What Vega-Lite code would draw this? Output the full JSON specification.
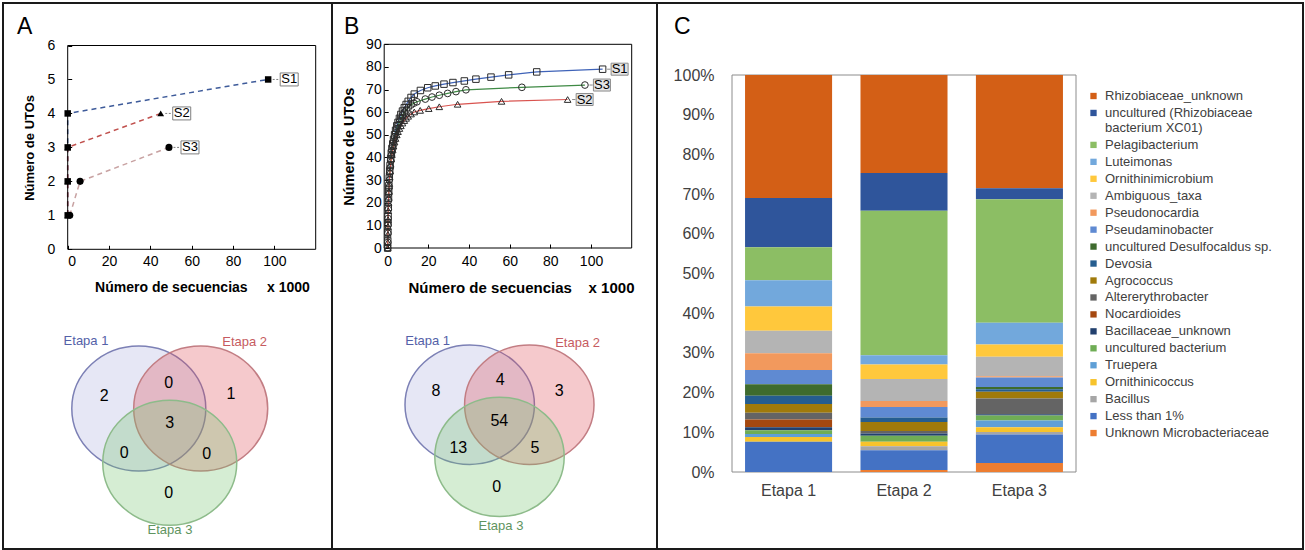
{
  "$schema": "https://vega.github.io/schema/vega-lite/v6.json",
  "padding": {"left": 2, "top": 2, "right": 0, "bottom": 0},
  "bounds": "flush",
  "spacing": 0,
  "background": "white",
  "resolve": {"legend": {"color": "independent", "fill": "independent", "stroke": "independent", "shape": "independent", "size": "independent"}, "scale": {"color": "independent", "fill": "independent", "stroke": "independent", "shape": "independent", "size": "independent"}},
  "config": {
    "view": {"stroke": "#1a1a1a", "strokeWidth": 2},
    "font": "Liberation Sans",
    "axis": {"labelFont": "Liberation Sans", "titleFont": "Liberation Sans"},
    "legend": {"labelFont": "Liberation Sans"},
    "text": {"font": "Liberation Sans"},
    "title": {"font": "Liberation Sans"}
  },
  "datasets": {
    "lineA": [
      {"s": "S1", "x": 0, "y": 1}, {"s": "S1", "x": 0, "y": 2}, {"s": "S1", "x": 0, "y": 3}, {"s": "S1", "x": 0, "y": 4}, {"s": "S1", "x": 97, "y": 5},
      {"s": "S2", "x": 0, "y": 1}, {"s": "S2", "x": 0, "y": 2}, {"s": "S2", "x": 0, "y": 3}, {"s": "S2", "x": 45, "y": 4},
      {"s": "S3", "x": 1, "y": 1}, {"s": "S3", "x": 6, "y": 2}, {"s": "S3", "x": 49, "y": 3}
    ],
    "endA": [{"s": "S1", "x": 97, "y": 5}, {"s": "S2", "x": 45, "y": 4}, {"s": "S3", "x": 49, "y": 3}],
    "lineB": [
      {"s": "S1", "x": 0, "y": 0}, {"s": "S1", "x": 0.05, "y": 3}, {"s": "S1", "x": 0.1, "y": 7}, {"s": "S1", "x": 0.15, "y": 11}, {"s": "S1", "x": 0.2, "y": 14}, {"s": "S1", "x": 0.3, "y": 18}, {"s": "S1", "x": 0.4, "y": 22}, {"s": "S1", "x": 0.5, "y": 25}, {"s": "S1", "x": 0.6, "y": 27.5}, {"s": "S1", "x": 0.8, "y": 31}, {"s": "S1", "x": 1, "y": 34}, {"s": "S1", "x": 1.2, "y": 36.5}, {"s": "S1", "x": 1.5, "y": 39.5}, {"s": "S1", "x": 1.8, "y": 42}, {"s": "S1", "x": 2.1, "y": 44}, {"s": "S1", "x": 2.5, "y": 46}, {"s": "S1", "x": 2.9, "y": 48}, {"s": "S1", "x": 3.4, "y": 50}, {"s": "S1", "x": 3.9, "y": 52}, {"s": "S1", "x": 4.5, "y": 54}, {"s": "S1", "x": 5.1, "y": 55.5}, {"s": "S1", "x": 5.8, "y": 57.3}, {"s": "S1", "x": 6.5, "y": 59}, {"s": "S1", "x": 7.3, "y": 60.5}, {"s": "S1", "x": 8.2, "y": 62}, {"s": "S1", "x": 9.1, "y": 63.4}, {"s": "S1", "x": 10.1, "y": 64.8}, {"s": "S1", "x": 11.5, "y": 66.5}, {"s": "S1", "x": 13.1, "y": 68}, {"s": "S1", "x": 16.1, "y": 69.6}, {"s": "S1", "x": 19.7, "y": 70.8}, {"s": "S1", "x": 23.4, "y": 71.6}, {"s": "S1", "x": 27.7, "y": 72.4}, {"s": "S1", "x": 32.1, "y": 73.1}, {"s": "S1", "x": 37.7, "y": 73.8}, {"s": "S1", "x": 43.4, "y": 74.6}, {"s": "S1", "x": 50.8, "y": 75.5}, {"s": "S1", "x": 59.5, "y": 76.5}, {"s": "S1", "x": 73.3, "y": 77.8}, {"s": "S1", "x": 105.7, "y": 79},
      {"s": "S3", "x": 0, "y": 0}, {"s": "S3", "x": 0.05, "y": 2.5}, {"s": "S3", "x": 0.1, "y": 6.5}, {"s": "S3", "x": 0.15, "y": 10}, {"s": "S3", "x": 0.2, "y": 13}, {"s": "S3", "x": 0.3, "y": 17}, {"s": "S3", "x": 0.4, "y": 21}, {"s": "S3", "x": 0.5, "y": 24}, {"s": "S3", "x": 0.6, "y": 26.5}, {"s": "S3", "x": 0.8, "y": 30}, {"s": "S3", "x": 1, "y": 33}, {"s": "S3", "x": 1.2, "y": 35.5}, {"s": "S3", "x": 1.5, "y": 38.5}, {"s": "S3", "x": 1.8, "y": 41}, {"s": "S3", "x": 2.1, "y": 43}, {"s": "S3", "x": 2.5, "y": 45}, {"s": "S3", "x": 2.9, "y": 47}, {"s": "S3", "x": 3.4, "y": 49}, {"s": "S3", "x": 3.9, "y": 50.8}, {"s": "S3", "x": 4.5, "y": 52.6}, {"s": "S3", "x": 5.1, "y": 54.2}, {"s": "S3", "x": 5.8, "y": 55.8}, {"s": "S3", "x": 6.5, "y": 57.2}, {"s": "S3", "x": 7.3, "y": 58.6}, {"s": "S3", "x": 8.2, "y": 59.9}, {"s": "S3", "x": 9.1, "y": 61}, {"s": "S3", "x": 10.1, "y": 62}, {"s": "S3", "x": 11.5, "y": 63.2}, {"s": "S3", "x": 12.9, "y": 64}, {"s": "S3", "x": 14.4, "y": 64.6}, {"s": "S3", "x": 18.5, "y": 65.8}, {"s": "S3", "x": 21.8, "y": 66.7}, {"s": "S3", "x": 25.4, "y": 67.5}, {"s": "S3", "x": 29.5, "y": 68.3}, {"s": "S3", "x": 33.6, "y": 69.1}, {"s": "S3", "x": 38.5, "y": 69.9}, {"s": "S3", "x": 66, "y": 71}, {"s": "S3", "x": 97, "y": 72},
      {"s": "S2", "x": 0, "y": 0}, {"s": "S2", "x": 0.05, "y": 2.5}, {"s": "S2", "x": 0.1, "y": 6}, {"s": "S2", "x": 0.15, "y": 9.5}, {"s": "S2", "x": 0.2, "y": 12.5}, {"s": "S2", "x": 0.3, "y": 16.5}, {"s": "S2", "x": 0.4, "y": 20}, {"s": "S2", "x": 0.5, "y": 22.5}, {"s": "S2", "x": 0.6, "y": 25}, {"s": "S2", "x": 0.8, "y": 28.5}, {"s": "S2", "x": 1, "y": 31.5}, {"s": "S2", "x": 1.2, "y": 34}, {"s": "S2", "x": 1.5, "y": 37}, {"s": "S2", "x": 1.8, "y": 39.3}, {"s": "S2", "x": 2.1, "y": 41.3}, {"s": "S2", "x": 2.5, "y": 43.3}, {"s": "S2", "x": 2.9, "y": 45}, {"s": "S2", "x": 3.4, "y": 46.8}, {"s": "S2", "x": 3.9, "y": 48.4}, {"s": "S2", "x": 4.5, "y": 50}, {"s": "S2", "x": 5.1, "y": 51.4}, {"s": "S2", "x": 5.8, "y": 52.8}, {"s": "S2", "x": 6.5, "y": 54}, {"s": "S2", "x": 7.3, "y": 55.2}, {"s": "S2", "x": 8.2, "y": 56.3}, {"s": "S2", "x": 9.1, "y": 57.3}, {"s": "S2", "x": 10.1, "y": 58.2}, {"s": "S2", "x": 11.5, "y": 59.2}, {"s": "S2", "x": 13.1, "y": 60.1}, {"s": "S2", "x": 16, "y": 60.8}, {"s": "S2", "x": 20.2, "y": 61.6}, {"s": "S2", "x": 25.4, "y": 62.4}, {"s": "S2", "x": 34.4, "y": 63.5}, {"s": "S2", "x": 56, "y": 64.8}, {"s": "S2", "x": 88.5, "y": 65.6}
    ],
    "endB": [{"s": "S1", "x": 105.7, "y": 79}, {"s": "S3", "x": 97, "y": 72}, {"s": "S2", "x": 88.5, "y": 65.6}],
    "venn": [{"set": "Etapa 1", "vx": 0, "vy": 0}, {"set": "Etapa 2", "vx": 1, "vy": 0}, {"set": "Etapa 3", "vx": 0.5, "vy": -0.875}],
    "vennANum": [
      {"n": "2", "vx": -0.557, "vy": 0.202}, {"n": "0", "vx": 0.483, "vy": 0.417}, {"n": "1", "vx": 1.49, "vy": 0.229},
      {"n": "3", "vx": 0.499, "vy": -0.229}, {"n": "0", "vx": -0.234, "vy": -0.714}, {"n": "0", "vx": 1.097, "vy": -0.73},
      {"n": "0", "vx": 0.483, "vy": -1.36}
    ],
    "vennALab": [{"set": "Etapa 1", "vx": -0.853, "vy": 1.09}, {"set": "Etapa 2", "vx": 1.71, "vy": 1.08}, {"set": "Etapa 3", "vx": 0.504, "vy": -1.968}],
    "vennBNum": [
      {"n": "8", "vx": -0.565, "vy": 0.23}, {"n": "4", "vx": 0.513, "vy": 0.409}, {"n": "3", "vx": 1.503, "vy": 0.23},
      {"n": "54", "vx": 0.497, "vy": -0.273}, {"n": "13", "vx": -0.191, "vy": -0.721}, {"n": "5", "vx": 1.096, "vy": -0.731},
      {"n": "0", "vx": 0.453, "vy": -1.379}
    ],
    "vennBLab": [{"set": "Etapa 1", "vx": -0.706, "vy": 1.077}, {"set": "Etapa 2", "vx": 1.81, "vy": 1.04}, {"set": "Etapa 3", "vx": 0.525, "vy": -2.035}],
    "bars": [
      {"etapa": "Etapa 1", "k": 1, "taxon": "Rhizobiaceae_unknown", "v": 31.0},
      {"etapa": "Etapa 1", "k": 2, "taxon": "uncultured (Rhizobiaceae bacterium XC01)", "v": 12.4},
      {"etapa": "Etapa 1", "k": 3, "taxon": "Pelagibacterium", "v": 8.3},
      {"etapa": "Etapa 1", "k": 4, "taxon": "Luteimonas", "v": 6.6},
      {"etapa": "Etapa 1", "k": 5, "taxon": "Ornithinimicrobium", "v": 6.1},
      {"etapa": "Etapa 1", "k": 6, "taxon": "Ambiguous_taxa", "v": 5.7},
      {"etapa": "Etapa 1", "k": 7, "taxon": "Pseudonocardia", "v": 4.2},
      {"etapa": "Etapa 1", "k": 8, "taxon": "Pseudaminobacter", "v": 3.6},
      {"etapa": "Etapa 1", "k": 9, "taxon": "uncultured Desulfocaldus sp.", "v": 2.9},
      {"etapa": "Etapa 1", "k": 10, "taxon": "Devosia", "v": 2.1},
      {"etapa": "Etapa 1", "k": 11, "taxon": "Agrococcus", "v": 2.2},
      {"etapa": "Etapa 1", "k": 12, "taxon": "Altererythrobacter", "v": 1.7},
      {"etapa": "Etapa 1", "k": 13, "taxon": "Nocardioides", "v": 1.9},
      {"etapa": "Etapa 1", "k": 14, "taxon": "Bacillaceae_unknown", "v": 0.8},
      {"etapa": "Etapa 1", "k": 15, "taxon": "uncultured bacterium", "v": 0.9},
      {"etapa": "Etapa 1", "k": 16, "taxon": "Truepera", "v": 0.8},
      {"etapa": "Etapa 1", "k": 17, "taxon": "Ornithinicoccus", "v": 1.2},
      {"etapa": "Etapa 1", "k": 18, "taxon": "Bacillus", "v": 0},
      {"etapa": "Etapa 1", "k": 19, "taxon": "Less than 1%", "v": 7.6},
      {"etapa": "Etapa 1", "k": 20, "taxon": "Unknown Microbacteriaceae", "v": 0},
      {"etapa": "Etapa 2", "k": 1, "taxon": "Rhizobiaceae_unknown", "v": 24.7},
      {"etapa": "Etapa 2", "k": 2, "taxon": "uncultured (Rhizobiaceae bacterium XC01)", "v": 9.5},
      {"etapa": "Etapa 2", "k": 3, "taxon": "Pelagibacterium", "v": 36.4},
      {"etapa": "Etapa 2", "k": 4, "taxon": "Luteimonas", "v": 2.3},
      {"etapa": "Etapa 2", "k": 5, "taxon": "Ornithinimicrobium", "v": 3.7},
      {"etapa": "Etapa 2", "k": 6, "taxon": "Ambiguous_taxa", "v": 5.5},
      {"etapa": "Etapa 2", "k": 7, "taxon": "Pseudonocardia", "v": 1.5},
      {"etapa": "Etapa 2", "k": 8, "taxon": "Pseudaminobacter", "v": 2.7},
      {"etapa": "Etapa 2", "k": 9, "taxon": "uncultured Desulfocaldus sp.", "v": 0},
      {"etapa": "Etapa 2", "k": 10, "taxon": "Devosia", "v": 1.1},
      {"etapa": "Etapa 2", "k": 11, "taxon": "Agrococcus", "v": 2.3},
      {"etapa": "Etapa 2", "k": 12, "taxon": "Altererythrobacter", "v": 0.6},
      {"etapa": "Etapa 2", "k": 13, "taxon": "Nocardioides", "v": 0},
      {"etapa": "Etapa 2", "k": 14, "taxon": "Bacillaceae_unknown", "v": 0.6},
      {"etapa": "Etapa 2", "k": 15, "taxon": "uncultured bacterium", "v": 1.5},
      {"etapa": "Etapa 2", "k": 16, "taxon": "Truepera", "v": 0},
      {"etapa": "Etapa 2", "k": 17, "taxon": "Ornithinicoccus", "v": 1.1},
      {"etapa": "Etapa 2", "k": 18, "taxon": "Bacillus", "v": 1.0},
      {"etapa": "Etapa 2", "k": 19, "taxon": "Less than 1%", "v": 5.0},
      {"etapa": "Etapa 2", "k": 20, "taxon": "Unknown Microbacteriaceae", "v": 0.5},
      {"etapa": "Etapa 3", "k": 1, "taxon": "Rhizobiaceae_unknown", "v": 28.6},
      {"etapa": "Etapa 3", "k": 2, "taxon": "uncultured (Rhizobiaceae bacterium XC01)", "v": 2.8},
      {"etapa": "Etapa 3", "k": 3, "taxon": "Pelagibacterium", "v": 31.2},
      {"etapa": "Etapa 3", "k": 4, "taxon": "Luteimonas", "v": 5.5},
      {"etapa": "Etapa 3", "k": 5, "taxon": "Ornithinimicrobium", "v": 3.1},
      {"etapa": "Etapa 3", "k": 6, "taxon": "Ambiguous_taxa", "v": 4.9},
      {"etapa": "Etapa 3", "k": 7, "taxon": "Pseudonocardia", "v": 0.3},
      {"etapa": "Etapa 3", "k": 8, "taxon": "Pseudaminobacter", "v": 2.4},
      {"etapa": "Etapa 3", "k": 9, "taxon": "uncultured Desulfocaldus sp.", "v": 0.6},
      {"etapa": "Etapa 3", "k": 10, "taxon": "Devosia", "v": 0.6},
      {"etapa": "Etapa 3", "k": 11, "taxon": "Agrococcus", "v": 1.7},
      {"etapa": "Etapa 3", "k": 12, "taxon": "Altererythrobacter", "v": 4.0},
      {"etapa": "Etapa 3", "k": 13, "taxon": "Nocardioides", "v": 0},
      {"etapa": "Etapa 3", "k": 14, "taxon": "Bacillaceae_unknown", "v": 0.3},
      {"etapa": "Etapa 3", "k": 15, "taxon": "uncultured bacterium", "v": 1.3},
      {"etapa": "Etapa 3", "k": 16, "taxon": "Truepera", "v": 1.7},
      {"etapa": "Etapa 3", "k": 17, "taxon": "Ornithinicoccus", "v": 1.2},
      {"etapa": "Etapa 3", "k": 18, "taxon": "Bacillus", "v": 0.6},
      {"etapa": "Etapa 3", "k": 19, "taxon": "Less than 1%", "v": 7.2},
      {"etapa": "Etapa 3", "k": 20, "taxon": "Unknown Microbacteriaceae", "v": 2.3}
    ]
  },
  "hconcat": [
    {
      "width": 329,
      "height": 546,
      "title": {"text": "A", "anchor": "start", "frame": "group", "offset": -54, "dx": 14, "baseline": "alphabetic", "fontSize": 23, "fontWeight": "normal", "color": "#000000"},
      "resolve": {
        "scale": {"x": "independent", "y": "independent", "color": "independent", "fill": "independent", "stroke": "independent", "shape": "independent", "size": "independent"},
        "axis": {"x": "independent", "y": "independent"}
      },
      "layer": [
        {
          "layer": [
            {
              "data": {"name": "lineA"},
              "mark": {"type": "line", "strokeDash": [5, 4], "strokeWidth": 1.5},
              "encoding": {
                "x": {"field": "x", "type": "quantitative", "scale": {"domain": [0, 120], "range": [64.7, 312.7], "nice": false, "zero": false},
                  "axis": {"orient": "bottom", "offset": -299.7, "values": [0, 20, 40, 60, 80, 100], "format": "d", "grid": false, "domain": false, "ticks": true, "tickSize": -4, "tickColor": "#000000", "labelPadding": 9, "labelFontSize": 14, "labelColor": "#000000", "title": "Número de secuencias\u00a0\u00a0\u00a0\u00a0\u00a0x 1000", "titleFontSize": 14, "titleFontWeight": "bold", "titleColor": "#000000", "titlePadding": 12, "titleX": 199}},
                "y": {"field": "y", "type": "quantitative", "scale": {"domain": [0, 6], "range": [246.3, 42.5], "nice": false, "zero": false},
                  "axis": {"orient": "left", "offset": -64.7, "values": [0, 1, 2, 3, 4, 5, 6], "format": "d", "grid": false, "domain": false, "ticks": true, "tickSize": -4, "tickColor": "#000000", "labelPadding": 17, "labelFontSize": 14, "labelColor": "#000000", "title": "Número de UTOs", "titleFontSize": 13, "titleFontWeight": "bold", "titleColor": "#000000", "titlePadding": 10}},
                "color": {"field": "s", "type": "nominal", "scale": {"domain": ["S1", "S2", "S3"], "range": ["#3E5B9A", "#C0504D", "#C8A2A2"]}, "legend": null},
                "order": {"value": null}
              }
            },
            {
              "data": {"values": [{}]},
              "mark": {"type": "rect", "fillOpacity": 0, "stroke": "#000000", "strokeWidth": 1},
              "encoding": {
                "x": {"datum": 0, "type": "quantitative", "scale": {"domain": [0, 120], "range": [64.7, 312.7], "nice": false, "zero": false}},
                "x2": {"datum": 120},
                "y": {"datum": 0, "type": "quantitative", "scale": {"domain": [0, 6], "range": [246.3, 42.5], "nice": false, "zero": false}},
                "y2": {"datum": 6}
              }
            },
            {
              "data": {"name": "lineA"},
              "mark": {"type": "point", "filled": true, "opacity": 1, "color": "#000000"},
              "encoding": {
                "x": {"field": "x", "type": "quantitative", "scale": {"domain": [0, 120], "range": [64.7, 312.7], "nice": false, "zero": false}},
                "y": {"field": "y", "type": "quantitative", "scale": {"domain": [0, 6], "range": [246.3, 42.5], "nice": false, "zero": false}},
                "shape": {"field": "s", "type": "nominal", "scale": {"domain": ["S1", "S2", "S3"], "range": ["square", "triangle-up", "circle"]}, "legend": null},
                "size": {"field": "s", "type": "nominal", "scale": {"domain": ["S1", "S2", "S3"], "range": [42, 50, 80]}, "legend": null}
              }
            },
            {
              "data": {"name": "endA"},
              "mark": {"type": "point", "shape": "M0.7,0H1.0M1.25,0H1.55M1.85,-1H4.62V1H1.85Z", "size": 169, "filled": true, "fill": "#FFFFFF", "stroke": "#7F7F7F", "strokeWidth": 1, "opacity": 1},
              "encoding": {
                "x": {"field": "x", "type": "quantitative", "scale": {"domain": [0, 120], "range": [64.7, 312.7], "nice": false, "zero": false}},
                "y": {"field": "y", "type": "quantitative", "scale": {"domain": [0, 6], "range": [246.3, 42.5], "nice": false, "zero": false}}
              }
            },
            {
              "data": {"name": "endA"},
              "mark": {"type": "text", "dx": 21, "fontSize": 13, "align": "center", "baseline": "middle", "color": "#000000"},
              "encoding": {
                "x": {"field": "x", "type": "quantitative", "scale": {"domain": [0, 120], "range": [64.7, 312.7], "nice": false, "zero": false}},
                "y": {"field": "y", "type": "quantitative", "scale": {"domain": [0, 6], "range": [246.3, 42.5], "nice": false, "zero": false}},
                "text": {"field": "s"}
              }
            }
          ]
        },
        {
          "layer": [
            {
              "data": {"name": "venn"},
              "mark": {"type": "point", "shape": "M-1,0A1,0.933,0,1,1,1,0A1,0.933,0,1,1,-1,0Z", "size": 17956, "filled": true, "opacity": 1, "fillOpacity": 0.3, "strokeOpacity": 1, "strokeWidth": 1.5},
              "encoding": {
                "x": {"field": "vx", "type": "quantitative", "scale": {"domain": [0, 1], "range": [135.8, 197.7], "nice": false, "zero": false}, "axis": null},
                "y": {"field": "vy", "type": "quantitative", "scale": {"domain": [-1, 0], "range": [467.4, 405.5], "nice": false, "zero": false}, "axis": null},
                "fill": {"field": "set", "type": "nominal", "scale": {"domain": ["Etapa 1", "Etapa 2", "Etapa 3"], "range": ["#ACAFDE", "#DE4B55", "#73C36C"]}, "legend": null},
                "stroke": {"field": "set", "type": "nominal", "scale": {"domain": ["Etapa 1", "Etapa 2", "Etapa 3"], "range": ["#7C80B5", "#C27D83", "#8DBB8A"]}, "legend": null}
              }
            },
            {
              "data": {"name": "vennANum"},
              "mark": {"type": "text", "fontSize": 16, "align": "center", "baseline": "middle", "color": "#000000"},
              "encoding": {
                "x": {"field": "vx", "type": "quantitative", "scale": {"domain": [0, 1], "range": [135.8, 197.7], "nice": false, "zero": false}, "axis": null},
                "y": {"field": "vy", "type": "quantitative", "scale": {"domain": [-1, 0], "range": [467.4, 405.5], "nice": false, "zero": false}, "axis": null},
                "text": {"field": "n"}
              }
            },
            {
              "data": {"name": "vennALab"},
              "mark": {"type": "text", "fontSize": 13, "align": "center", "baseline": "middle"},
              "encoding": {
                "x": {"field": "vx", "type": "quantitative", "scale": {"domain": [0, 1], "range": [135.8, 197.7], "nice": false, "zero": false}, "axis": null},
                "y": {"field": "vy", "type": "quantitative", "scale": {"domain": [-1, 0], "range": [467.4, 405.5], "nice": false, "zero": false}, "axis": null},
                "text": {"field": "set"},
                "color": {"field": "set", "type": "nominal", "scale": {"domain": ["Etapa 1", "Etapa 2", "Etapa 3"], "range": ["#5461A8", "#C65B61", "#5F9460"]}, "legend": null}
              }
            }
          ]
        }
      ]
    },
    {
      "width": 325,
      "height": 546,
      "title": {"text": "B", "anchor": "start", "frame": "group", "offset": -54, "dx": 12, "baseline": "alphabetic", "fontSize": 23, "fontWeight": "normal", "color": "#000000"},
      "resolve": {
        "scale": {"x": "independent", "y": "independent", "color": "independent", "fill": "independent", "stroke": "independent", "shape": "independent", "size": "independent"},
        "axis": {"x": "independent", "y": "independent"}
      },
      "layer": [
        {
          "layer": [
            {
              "data": {"name": "lineB"},
              "mark": {"type": "line", "strokeWidth": 1.2},
              "encoding": {
                "x": {"field": "x", "type": "quantitative", "scale": {"domain": [-1.7, 120], "range": [52.2, 299.7], "nice": false, "zero": false},
                  "axis": {"orient": "bottom", "offset": -301, "values": [0, 20, 40, 60, 80, 100], "format": "d", "grid": false, "domain": false, "ticks": true, "tickSize": -4, "tickColor": "#000000", "labelPadding": 10, "labelFontSize": 14, "labelColor": "#000000", "title": "Número de secuencias\u00a0\u00a0\u00a0\u00a0x 1000", "titleFontSize": 15, "titleFontWeight": "bold", "titleColor": "#000000", "titlePadding": 12, "titleX": 189}},
                "y": {"field": "y", "type": "quantitative", "scale": {"domain": [0, 90], "range": [245, 41.3], "nice": false, "zero": false},
                  "axis": {"orient": "left", "offset": -52.2, "values": [0, 10, 20, 30, 40, 50, 60, 70, 80, 90], "format": "d", "grid": false, "domain": false, "ticks": true, "tickSize": -4, "tickColor": "#000000", "labelPadding": 7, "labelFontSize": 14, "labelColor": "#000000", "title": "Número de UTOs", "titleFontSize": 14.5, "titleFontWeight": "bold", "titleColor": "#000000", "titlePadding": 9}},
                "color": {"field": "s", "type": "nominal", "scale": {"domain": ["S1", "S2", "S3"], "range": ["#3F63B8", "#D9534F", "#3F8A45"]}, "legend": null},
                "order": {"value": null}
              }
            },
            {
              "data": {"values": [{}]},
              "mark": {"type": "rect", "fillOpacity": 0, "stroke": "#000000", "strokeWidth": 1},
              "encoding": {
                "x": {"datum": -1.7, "type": "quantitative", "scale": {"domain": [-1.7, 120], "range": [52.2, 299.7], "nice": false, "zero": false}},
                "x2": {"datum": 120},
                "y": {"datum": 0, "type": "quantitative", "scale": {"domain": [0, 90], "range": [245, 41.3], "nice": false, "zero": false}},
                "y2": {"datum": 90}
              }
            },
            {
              "data": {"name": "lineB"},
              "mark": {"type": "point", "filled": false, "opacity": 1, "color": "#2B2B2B", "strokeWidth": 1},
              "encoding": {
                "x": {"field": "x", "type": "quantitative", "scale": {"domain": [-1.7, 120], "range": [52.2, 299.7], "nice": false, "zero": false}},
                "y": {"field": "y", "type": "quantitative", "scale": {"domain": [0, 90], "range": [245, 41.3], "nice": false, "zero": false}},
                "shape": {"field": "s", "type": "nominal", "scale": {"domain": ["S1", "S2", "S3"], "range": ["square", "triangle-up", "circle"]}, "legend": null},
                "size": {"field": "s", "type": "nominal", "scale": {"domain": ["S1", "S2", "S3"], "range": [42, 45, 55]}, "legend": null}
              }
            },
            {
              "data": {"name": "endB"},
              "mark": {"type": "point", "shape": "M0.75,0H1.3M1.417,-1H4.25V1H1.417Z", "size": 144, "filled": true, "fill": "#E4E4E4", "stroke": "#8C8C8C", "strokeWidth": 1, "opacity": 1},
              "encoding": {
                "x": {"field": "x", "type": "quantitative", "scale": {"domain": [-1.7, 120], "range": [52.2, 299.7], "nice": false, "zero": false}},
                "y": {"field": "y", "type": "quantitative", "scale": {"domain": [0, 90], "range": [245, 41.3], "nice": false, "zero": false}}
              }
            },
            {
              "data": {"name": "endB"},
              "mark": {"type": "text", "dx": 17, "fontSize": 13, "align": "center", "baseline": "middle", "color": "#000000"},
              "encoding": {
                "x": {"field": "x", "type": "quantitative", "scale": {"domain": [-1.7, 120], "range": [52.2, 299.7], "nice": false, "zero": false}},
                "y": {"field": "y", "type": "quantitative", "scale": {"domain": [0, 90], "range": [245, 41.3], "nice": false, "zero": false}},
                "text": {"field": "s"}
              }
            }
          ]
        },
        {
          "layer": [
            {
              "data": {"name": "venn"},
              "mark": {"type": "point", "shape": "M-1,0A1,0.923,0,1,1,1,0A1,0.923,0,1,1,-1,0Z", "size": 16744, "filled": true, "opacity": 1, "fillOpacity": 0.3, "strokeOpacity": 1, "strokeWidth": 1.5},
              "encoding": {
                "x": {"field": "vx", "type": "quantitative", "scale": {"domain": [0, 1], "range": [137.7, 197.3], "nice": false, "zero": false}, "axis": null},
                "y": {"field": "vy", "type": "quantitative", "scale": {"domain": [-1, 0], "range": [461.3, 401.7], "nice": false, "zero": false}, "axis": null},
                "fill": {"field": "set", "type": "nominal", "scale": {"domain": ["Etapa 1", "Etapa 2", "Etapa 3"], "range": ["#ACAFDE", "#DE4B55", "#73C36C"]}, "legend": null},
                "stroke": {"field": "set", "type": "nominal", "scale": {"domain": ["Etapa 1", "Etapa 2", "Etapa 3"], "range": ["#7C80B5", "#C27D83", "#8DBB8A"]}, "legend": null}
              }
            },
            {
              "data": {"name": "vennBNum"},
              "mark": {"type": "text", "fontSize": 16, "align": "center", "baseline": "middle", "color": "#000000"},
              "encoding": {
                "x": {"field": "vx", "type": "quantitative", "scale": {"domain": [0, 1], "range": [137.7, 197.3], "nice": false, "zero": false}, "axis": null},
                "y": {"field": "vy", "type": "quantitative", "scale": {"domain": [-1, 0], "range": [461.3, 401.7], "nice": false, "zero": false}, "axis": null},
                "text": {"field": "n"}
              }
            },
            {
              "data": {"name": "vennBLab"},
              "mark": {"type": "text", "fontSize": 13, "align": "center", "baseline": "middle"},
              "encoding": {
                "x": {"field": "vx", "type": "quantitative", "scale": {"domain": [0, 1], "range": [137.7, 197.3], "nice": false, "zero": false}, "axis": null},
                "y": {"field": "vy", "type": "quantitative", "scale": {"domain": [-1, 0], "range": [461.3, 401.7], "nice": false, "zero": false}, "axis": null},
                "text": {"field": "set"},
                "color": {"field": "set", "type": "nominal", "scale": {"domain": ["Etapa 1", "Etapa 2", "Etapa 3"], "range": ["#5461A8", "#C65B61", "#5F9460"]}, "legend": null}
              }
            }
          ]
        }
      ]
    },
    {
      "width": 646,
      "height": 546,
      "title": {"text": "C", "anchor": "start", "frame": "group", "offset": -54, "dx": 17, "baseline": "alphabetic", "fontSize": 23, "fontWeight": "normal", "color": "#000000"},
      "resolve": {
        "scale": {"x": "independent", "y": "independent"},
        "axis": {"x": "independent", "y": "independent"}
      },
      "layer": [
        {
          "data": {"values": [{}]},
          "mark": {"type": "rect", "fillOpacity": 0, "stroke": "#8C8C8C", "strokeWidth": 1},
          "encoding": {
            "x": {"datum": 0, "type": "quantitative", "scale": {"domain": [0, 1], "range": [75, 419], "nice": false, "zero": false}, "axis": null},
            "x2": {"datum": 1},
            "y": {"datum": 0, "type": "quantitative", "scale": {"domain": [0, 1], "range": [469, 72], "nice": false, "zero": false}, "axis": null},
            "y2": {"datum": 1}
          }
        },
        {
          "data": {"name": "bars"},
          "mark": {"type": "bar"},
          "encoding": {
            "x": {"field": "etapa", "type": "nominal", "scale": {"domain": ["Etapa 1", "Etapa 2", "Etapa 3"], "range": [75, 419], "paddingInner": 0.246, "paddingOuter": 0.113},
              "axis": {"orient": "bottom", "offset": -77, "domain": false, "ticks": false, "grid": false, "labelAngle": 0, "labelPadding": 10, "labelFontSize": 16, "labelColor": "#404040", "title": null}},
            "y": {"field": "v", "type": "quantitative", "stack": "normalize", "scale": {"domain": [0, 1], "range": [469, 72], "nice": false, "zero": true},
              "axis": {"orient": "left", "offset": -75, "domain": false, "ticks": false, "grid": false, "format": ".0%", "values": [0, 0.1, 0.2, 0.3, 0.4, 0.5, 0.6, 0.7, 0.8, 0.9, 1], "labelPadding": 18, "labelFontSize": 16, "labelColor": "#404040", "title": null}},
            "color": {"field": "taxon", "type": "nominal",
              "scale": {
                "domain": ["Rhizobiaceae_unknown", "uncultured (Rhizobiaceae bacterium XC01)", "Pelagibacterium", "Luteimonas", "Ornithinimicrobium", "Ambiguous_taxa", "Pseudonocardia", "Pseudaminobacter", "uncultured Desulfocaldus sp.", "Devosia", "Agrococcus", "Altererythrobacter", "Nocardioides", "Bacillaceae_unknown", "uncultured bacterium", "Truepera", "Ornithinicoccus", "Bacillus", "Less than 1%", "Unknown Microbacteriaceae"],
                "range": ["#D35F16", "#2F559B", "#8CBE64", "#72A8DC", "#FFC83C", "#B4B4B4", "#F2995D", "#5F8AD2", "#3E6B2E", "#255D8F", "#A07A0A", "#646464", "#A5480F", "#22406E", "#6FAD55", "#5F9FD6", "#F7C32C", "#A6A6A6", "#4472C4", "#ED7D31"]
              },
              "legend": {"orient": "none", "legendX": 430, "legendY": 86.5, "title": null, "padding": 0, "labelFontSize": 13, "labelColor": "#404040", "symbolType": "square", "symbolSize": 40, "symbolStrokeWidth": 0, "rowPadding": 2.95, "labelOffset": 5, "labelLimit": 400,
                "labelExpr": "datum.label == 'uncultured (Rhizobiaceae bacterium XC01)' ? ['uncultured (Rhizobiaceae', 'bacterium XC01)'] : datum.label"}
            },
            "order": {"field": "k", "type": "quantitative", "sort": "descending"}
          }
        }
      ]
    }
  ]
}
